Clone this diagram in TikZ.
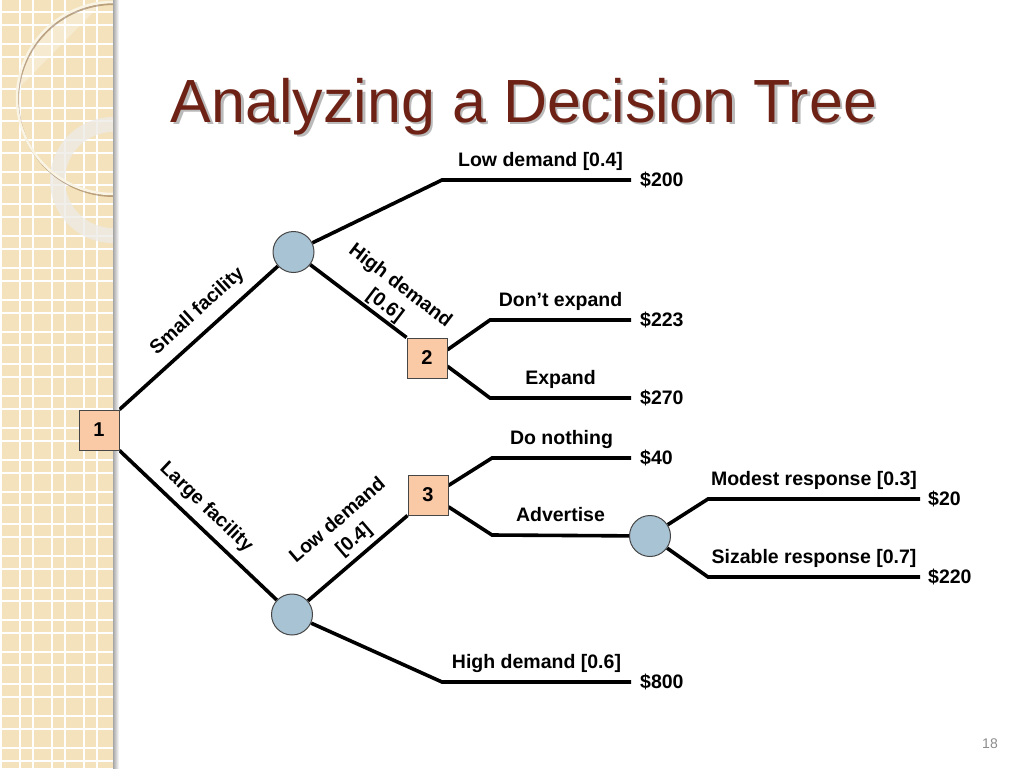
\documentclass[tikz,border=0pt]{standalone}
\usepackage{fontspec}
\setmainfont{Liberation Sans}
\usetikzlibrary{positioning,backgrounds}

\definecolor{stripbg}{RGB}{243,226,188}
\definecolor{ringcol}{RGB}{238,235,230}
\definecolor{circcol}{RGB}{250,244,228}
\definecolor{titlered}{RGB}{110,34,22}
\definecolor{boxfill}{RGB}{250,201,166}
\definecolor{chancefill}{RGB}{168,195,212}
\definecolor{edgegray}{RGB}{70,70,70}

\tikzset{
  decision/.style={draw=edgegray, line width=1pt, fill=boxfill, minimum size=40pt,
    inner sep=0pt, font=\fontsize{20}{24}\selectfont\bfseries},
  chance/.style={circle, draw=edgegray, line width=1pt, fill=chancefill,
    minimum size=41pt, inner sep=0pt},
  branch/.style={line width=3.6pt},
  choice/.style={anchor=base, yshift=14pt, font=\fontsize{19.5}{24}\selectfont\bfseries},
  payoff/.style={anchor=west, inner sep=0pt, font=\fontsize{19.5}{24}\selectfont\bfseries},
  slbl/.style={anchor=center, align=center, font=\fontsize{19.5}{25}\selectfont\bfseries},
}

\begin{document}
\begin{tikzpicture}[x=1pt,y=-1pt]

    \useasboundingbox (0,0) rectangle (1024,768);

    % the beige strip on the left
    \fill[stripbg] (0,0) rectangle (113,768);
    \foreach \k in {0,...,3} {
        \draw[white, line width=1.3pt] (1+32*\k,0) -- (1+32*\k,768);
        \draw[white, line width=1.3pt] (20+32*\k,0) -- (20+32*\k,768);
    }
    \foreach \k in {0,...,23} {
        \draw[white, line width=1.3pt] (0,12+32*\k) -- (113,12+32*\k);
        \draw[white, line width=1.3pt] (0,25+32*\k) -- (113,25+32*\k);
    }
    \begin{scope}
        \clip (0,0) rectangle (113,768);
        \begin{scope}
            \clip (113,98) circle (96);
            \fill[white, opacity=0.3] (0,0) -- (105,0) -- (15,92) -- (0,92) -- cycle;
        \end{scope}
        \fill[even odd rule, ringcol, opacity=0.8] (113,180) circle (63) (113,180) circle (48);
        \draw[brown!60!black, opacity=0.45, line width=2pt] (114,100) circle (96);
        \draw[circcol, line width=2.5pt] (113,98) circle (96);
    \end{scope}
    \shade[left color=black!35, right color=white] (113,0) rectangle (119,768);

    % title and page number
    \node[font=\fontsize{61}{70}\selectfont, text=black!45, opacity=0.6, anchor=base] (titleshadow) at (526.5,124.5) {Analyzing a Decision Tree};
    \node[font=\fontsize{61}{70}\selectfont, text=titlered, anchor=base] (title) at (524,122) {Analyzing a Decision Tree};
    \node[font=\fontsize{14}{16}\selectfont, text=black!45] (pnum) at (990,744) {18};

    % these are the decision and chance nodes
    \node[decision] (n1) at (99,430) {1};
    \node[chance] (cA) at (293.5,252) {};
    \node[decision] (n2) at (427,358) {2};
    \node[decision] (n3) at (428,495) {3};
    \node[chance] (cB) at (292,614.5) {};
    \node[chance] (cC) at (650,536) {};

    % bends and ends of the branches
    \coordinate (a1) at (442,180); \coordinate (a1e) at (631,180);
    \coordinate (b1) at (490,320); \coordinate (b1e) at (631,320);
    \coordinate (b2) at (490,398); \coordinate (b2e) at (631,398);
    \coordinate (c1) at (492,458); \coordinate (c1e) at (631,458);
    \coordinate (c2) at (492,535);
    \coordinate (d1) at (708,499); \coordinate (d1e) at (920,499);
    \coordinate (d2) at (708,577); \coordinate (d2e) at (920,577);
    \coordinate (e1) at (442,682); \coordinate (e1e) at (631,682);

    \begin{scope}[on background layer]
    \draw[branch] (n1.north east) -- node[slbl, rotate=42.3, yshift=20.5pt, pos=0.58] {Small facility} (cA);
    \draw[branch] (n1.south east) -- node[slbl, rotate=-43.6, yshift=18.3pt, pos=0.47] {Large facility} (cB);
    \draw[branch] (cA) -- node[slbl, rotate=-37.2, yshift=24.5pt, pos=0.70] {High demand\\{[0.6]}} (n2.north west);
    \draw[branch] (cB) -- node[slbl, rotate=40.6, yshift=28.5pt, pos=0.57] {Low demand\\{[0.4]}} (n3.south west);

    \draw[branch] (cA) -- (a1) -- node[choice, xshift=4pt] {Low demand [0.4]} (a1e);
    \draw[branch] (n2.22) -- (b1) -- node[choice] {Don’t expand} (b1e);
    \draw[branch] (n2.-22) -- (b2) -- node[choice] {Expand} (b2e);
    \draw[branch] (n3.25) -- (c1) -- node[choice] {Do nothing} (c1e);
    \draw[branch] (n3.-30) -- (c2) -- node[choice] {Advertise} (cC);
    \draw[branch] (cC) -- (d1) -- node[choice] {Modest response [0.3]} (d1e);
    \draw[branch] (cC) -- (d2) -- node[choice] {Sizable response [0.7]} (d2e);
    \draw[branch] (cB) -- (e1) -- node[choice] {High demand [0.6]} (e1e);
    \end{scope}

    % payoffs
    \node[payoff, right=9pt of a1e] (p1) {\$200};
    \node[payoff, right=9pt of b1e] (p2) {\$223};
    \node[payoff, right=9pt of b2e] (p3) {\$270};
    \node[payoff, right=9pt of c1e] (p4) {\$40};
    \node[payoff, right=8pt of d1e] (p5) {\$20};
    \node[payoff, right=8pt of d2e] (p6) {\$220};
    \node[payoff, right=9pt of e1e] (p7) {\$800};

\end{tikzpicture}
\end{document}
